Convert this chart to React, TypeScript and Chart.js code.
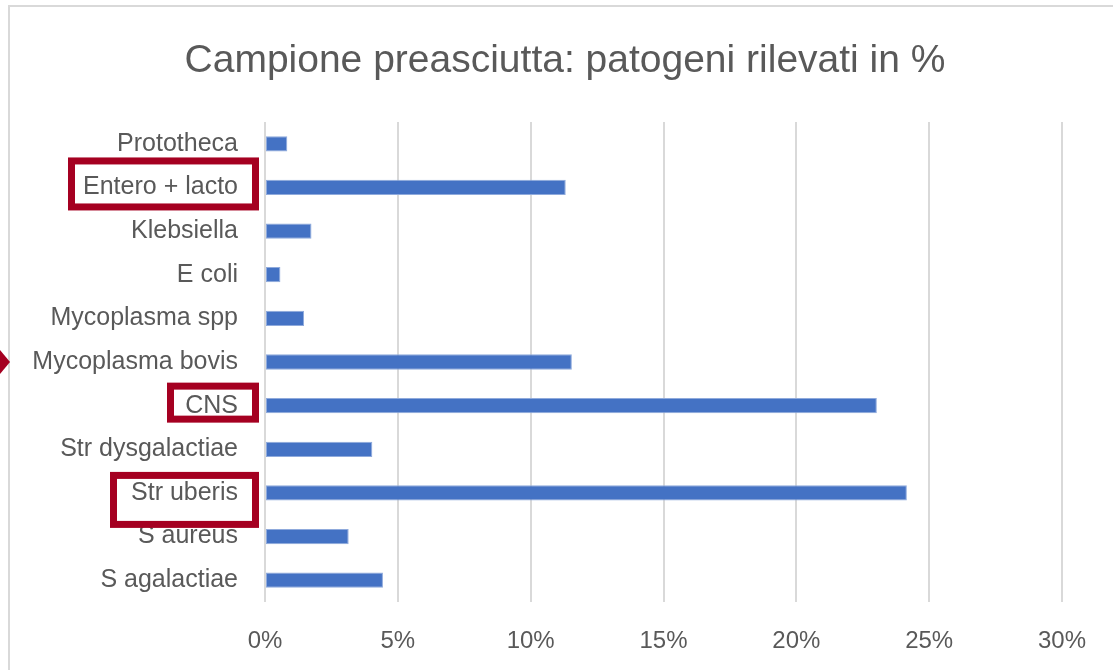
import React, { useEffect, useRef } from "react";
import { Chart, registerables } from "chart.js";

Chart.register(...registerables);

const TITLE = "Campione preasciutta: patogeni rilevati in %";
const categories = [
  "Prototheca",
  "Entero + lacto",
  "Klebsiella",
  "E coli",
  "Mycoplasma spp",
  "Mycoplasma bovis",
  "CNS",
  "Str dysgalactiae",
  "Str uberis",
  "S aureus",
  "S agalactiae",
];
const percentages = [0.84, 11.32, 1.75, 0.58, 1.47, 11.55, 23.03, 4.04, 24.16, 3.15, 4.44];
const xTicks = [0, 5, 10, 15, 20, 25, 30];

// Highlight annotations (hand-drawn boxes around labels), offsets relative to the label row
const highlights = [
  { label: "Entero + lacto", left: 68, right: 259, up: 30, down: 23 },
  { label: "CNS", left: 167, right: 259, up: 23, down: 17 },
  { label: "Str uberis", left: 110, right: 259, up: 21, down: 35 },
];
const HIGHLIGHT_COLOR = "#A50021";
const FONT = "'Liberation Sans', Arial, sans-serif";

const annotationPlugin = {
  id: "annotations",
  afterDraw(chart: any) {
    const ctx = chart.ctx;
    const y = chart.scales.y;
    ctx.save();
    // title
    ctx.fillStyle = "#595959";
    ctx.font = `39px ${FONT}`;
    ctx.textAlign = "center";
    ctx.textBaseline = "middle";
    ctx.fillText(TITLE, 565, 61);
    // highlight boxes
    ctx.strokeStyle = HIGHLIGHT_COLOR;
    ctx.lineWidth = 7;
    highlights.forEach((h) => {
      const idx = categories.indexOf(h.label);
      const cy = y.getPixelForValue(idx);
      const top = cy - h.up;
      const bottom = cy + h.down;
      ctx.strokeRect(h.left + 3.5, top + 3.5, h.right - h.left - 7, bottom - top - 7);
    });
    // arrow marker at the left edge pointing to Mycoplasma bovis
    const my = y.getPixelForValue(categories.indexOf("Mycoplasma bovis"));
    ctx.fillStyle = HIGHLIGHT_COLOR;
    ctx.beginPath();
    ctx.moveTo(0, my - 12);
    ctx.lineTo(10, my);
    ctx.lineTo(0, my + 12);
    ctx.closePath();
    ctx.fill();
    ctx.restore();
  },
};

export default function App() {
  const canvasRef = useRef<HTMLCanvasElement | null>(null);

  useEffect(() => {
    if (!canvasRef.current) return;
    const chart = new Chart(canvasRef.current, {
      type: "bar",
      data: {
        labels: categories,
        datasets: [
          {
            data: percentages,
            backgroundColor: "#4472C4",
            borderColor: "#8FAADC",
            borderWidth: 1,
            borderSkipped: false,
            categoryPercentage: 1,
            barPercentage: 0.35,
          },
        ],
      },
      options: {
        indexAxis: "y",
        responsive: false,
        animation: false,
        layout: { padding: { left: 0, right: 51, top: 122, bottom: 0 } },
        plugins: {
          legend: { display: false },
          tooltip: { enabled: false },
          title: { display: false },
        },
        scales: {
          x: {
            min: 0,
            max: 30,
            afterFit: (s: any) => {
              s.height = 68;
            },
            afterBuildTicks: (s: any) => {
              s.ticks = xTicks.map((v) => ({ value: v }));
            },
            ticks: {
              callback: (v: any) => v + "%",
              color: "#595959",
              font: { family: FONT, size: 24 },
              padding: 25,
              maxRotation: 0,
            },
            grid: { color: "#D9D9D9", lineWidth: 2, drawTicks: false },
            border: { display: false },
          },
          y: {
            afterFit: (s: any) => {
              s.width = 265;
            },
            ticks: {
              color: "#595959",
              font: { family: FONT, size: 25 },
              padding: 27,
            },
            grid: { display: false, drawTicks: false },
            border: { display: false },
          },
        },
      },
      plugins: [annotationPlugin],
    });
    return () => chart.destroy();
  }, []);

  return (
    <div style={{ position: "fixed", left: 0, top: 0, width: 1113, height: 670, background: "#fff", overflow: "hidden" }}>
      <div
        style={{
          position: "absolute",
          left: 8,
          top: 5,
          width: 1200,
          height: 800,
          border: "2px solid #D9D9D9",
          boxSizing: "border-box",
        }}
      />
      <canvas ref={canvasRef} width={1113} height={670} style={{ position: "absolute", left: 0, top: 0 }} />
    </div>
  );
}
